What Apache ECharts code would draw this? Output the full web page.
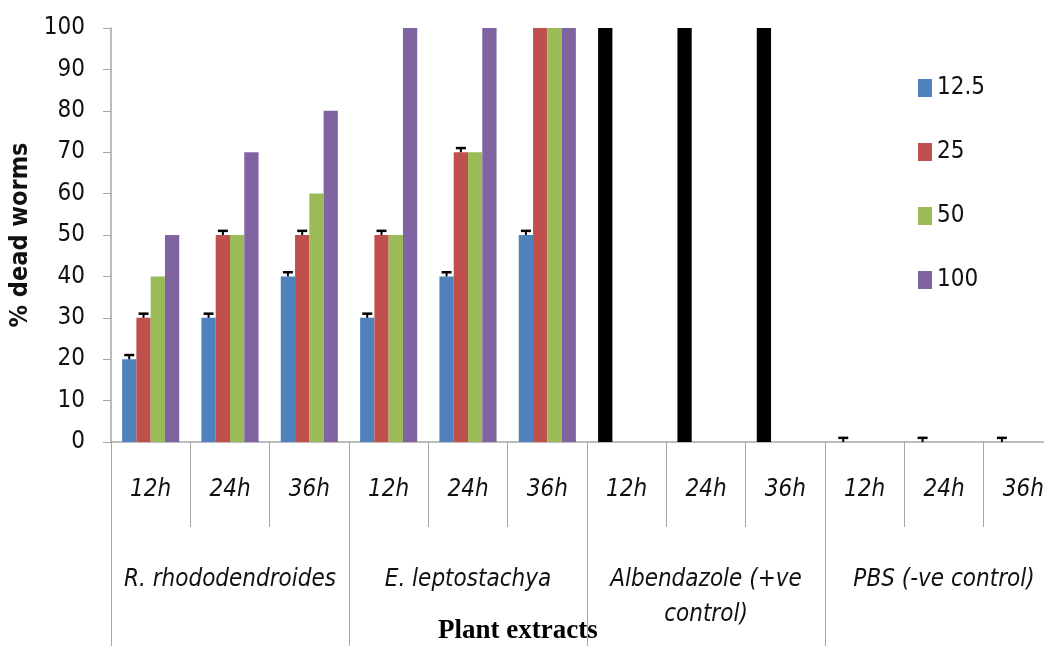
<!DOCTYPE html>
<html>
<head>
<meta charset="utf-8">
<script src="https://cdn.jsdelivr.net/npm/echarts@6/dist/echarts.min.js"></script>
<style>
  html, body { margin: 0; padding: 0; background: #fff; }
  #chart { width: 1044px; height: 646px; }
</style>
</head>
<body>
<div id="chart"></div>
<script>
// Time points (inner axis level) and treatment groups (outer axis level)
const timeLabels = ['12h', '24h', '36h', '12h', '24h', '36h', '12h', '24h', '36h', '12h', '24h', '36h'];
const groupLabels = ['R. rhododendroides', 'E. leptostachya', 'Albendazole (+ve\ncontrol)', 'PBS (-ve control)'];
const seriesNames = ['12.5', '25', '50', '100'];

// % dead worms per concentration (mg/ml)
const conc12_5 = [20, 30, 40, 30, 40, 50, 100, 100, 100, 0, 0, 0];
const conc25   = [30, 50, 50, 50, 70, 100, 0, 0, 0, 0, 0, 0];
const conc50   = [40, 50, 60, 50, 70, 100, 0, 0, 0, 0, 0, 0];
const conc100  = [50, 70, 80, 100, 100, 100, 0, 0, 0, 0, 0, 0];

// Upper error (standard error) for the 12.5 and 25 series
const err12_5 = [1, 1, 1, 1, 1, 1, null, null, null, 1, 1, 1];
const err25   = [1, 1, 1, 1, 1, null, null, null, null, null, null, null];

// Positive-control category indices (drawn in black)
const controlIdx = [6, 7, 8];

const colors = ['#4F81BD', '#C0504D', '#9BBB59', '#8064A2'];
const FONT = "'DejaVu Sans Condensed', 'DejaVu Sans', sans-serif";
const CAT_GAP = 0.28;

const values = [conc12_5, conc25, conc50, conc100];

function barData(arr, si) {
  return arr.map((v, i) => {
    if (si === 0 && controlIdx.includes(i)) {
      return { value: v, itemStyle: { color: '#000' } };
    }
    return v;
  });
}

function errData(errArr, vals, slot) {
  const out = [];
  errArr.forEach((e, i) => {
    if (e != null) out.push([i, vals[i], e, slot]);
  });
  return out;
}

const errorPoints = errData(err12_5, conc12_5, 0).concat(errData(err25, conc25, 1));

function renderError(params, api) {
  const ci = api.value(0), v = api.value(1), e = api.value(2), slot = api.value(3);
  const band = api.size([1, 0])[0];
  const used = band * (1 - CAT_GAP);
  const barW = used / 4;
  const base = api.coord([ci, v]);
  const top = api.coord([ci, v + e]);
  const x = base[0] - used / 2 + barW * (slot + 0.5);
  return {
    type: 'group',
    children: [
      { type: 'line', shape: { x1: x, y1: base[1], x2: x, y2: top[1] }, style: { stroke: '#000', lineWidth: 2 } },
      { type: 'line', shape: { x1: x - 5, y1: top[1], x2: x + 5, y2: top[1] }, style: { stroke: '#000', lineWidth: 2.5 } }
    ]
  };
}

const chart = echarts.init(document.getElementById('chart'), null, { renderer: 'canvas' });

const option = {
  backgroundColor: '#fff',
  animation: false,
  textStyle: { fontFamily: FONT },
  grid: { left: 111, top: 28, width: 952, height: 414, containLabel: false, outerBoundsMode: 'none' },
  legend: {
    orient: 'vertical',
    left: 913,
    top: 71,
    itemWidth: 14,
    itemHeight: 18,
    itemGap: 40,
    icon: 'rect',
    data: seriesNames,
    textStyle: { fontFamily: FONT, fontSize: 24, color: '#111', lineHeight: 24 }
  },
  xAxis: [
    {
      type: 'category',
      data: timeLabels,
      position: 'bottom',
      axisLine: { show: true, lineStyle: { color: '#a6a6a6', width: 1.5 } },
      axisTick: { show: true, interval: 0, length: 85, lineStyle: { color: '#a6a6a6' } },
      axisLabel: {
        interval: 0, margin: 35, fontSize: 24, fontStyle: 'italic',
        fontFamily: FONT, color: '#111', lineHeight: 26
      },
      splitLine: { show: false }
    },
    {
      type: 'category',
      data: groupLabels,
      position: 'bottom',
      axisLine: { show: false },
      axisTick: { show: true, interval: 0, length: 204, lineStyle: { color: '#a6a6a6' } },
      axisLabel: {
        interval: 0, margin: 120, fontSize: 24, fontStyle: 'italic',
        fontFamily: FONT, color: '#111', lineHeight: 35
      },
      splitLine: { show: false }
    }
  ],
  yAxis: {
    type: 'value',
    min: 0,
    max: 100,
    interval: 10,
    name: '% dead worms',
    nameLocation: 'middle',
    nameRotate: 90,
    nameGap: 76,
    nameTextStyle: { fontFamily: FONT, fontSize: 25, fontWeight: 'bold', color: '#111' },
    axisLine: { show: true, lineStyle: { color: '#a6a6a6', width: 1.5 } },
    axisTick: { show: true, length: 8, lineStyle: { color: '#a6a6a6' } },
    axisLabel: { margin: 26, fontSize: 24, fontFamily: FONT, color: '#111' },
    splitLine: { show: false }
  },
  graphic: [
    {
      type: 'text',
      left: 438,
      top: 618,
      style: {
        text: 'Plant extracts',
        fontFamily: "'Liberation Serif', 'DejaVu Serif', serif",
        fontWeight: 'bold',
        fontSize: 27,
        fill: '#000'
      }
    }
  ],
  series: values.map((arr, si) => ({
    name: seriesNames[si],
    type: 'bar',
    xAxisIndex: 0,
    data: barData(arr, si),
    itemStyle: { color: colors[si] },
    barGap: '0%',
    barCategoryGap: (CAT_GAP * 100) + '%'
  })).concat([
    {
      type: 'custom',
      name: 'error',
      xAxisIndex: 0,
      renderItem: renderError,
      data: errorPoints,
      encode: { x: 0, y: 1 },
      z: 10,
      silent: true
    }
  ])
};

chart.setOption(option);
</script>
</body>
</html>
